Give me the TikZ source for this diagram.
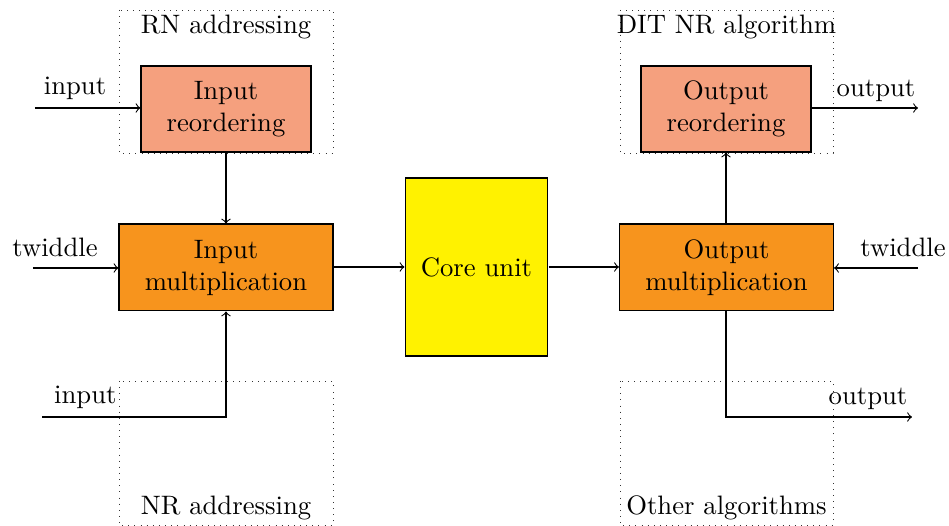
\documentclass[tikz,border=0pt]{standalone}
\usetikzlibrary{positioning}
\definecolor{reorderfill}{HTML}{F5A07E}
\definecolor{multfill}{HTML}{F7941D}
\definecolor{corefill}{HTML}{FFF200}
\begin{document}
\begin{tikzpicture}[x=0.375pt,y=-0.375pt,
  blockbox/.style={draw,thin,align=center,inner sep=0pt},
  reorderbox/.style={blockbox,fill=reorderfill,minimum width=63.75pt,minimum height=32.25pt},
  multbox/.style={blockbox,fill=multfill,minimum width=80.25pt,minimum height=32.6pt},
  corebox/.style={blockbox,fill=corefill,minimum width=53.6pt,minimum height=66.75pt},
  groupframe/.style={draw=black!80,dotted,line width=0.3pt},
  flow/.style={->,thin},
  plainlabel/.style={inner sep=1.5pt}
]
\useasboundingbox (0,0) rectangle (949,526);

% dotted group frames
\draw[groupframe] (119,10) rectangle (333,153);
\draw[groupframe] (620,10) rectangle (833,153);
\draw[groupframe] (119,381) rectangle (333,525);
\draw[groupframe] (620,381) rectangle (833,525);
\node[plainlabel,anchor=north] (rnlab) at (226,10) {RN addressing};
\node[plainlabel,anchor=north] (ditlab) at (726.5,10) {DIT NR algorithm};
\node[plainlabel,anchor=south] (nrlab) at (226,525) {NR addressing};
\node[plainlabel,anchor=south] (otherlab) at (726.5,525) {Other algorithms};

% processing blocks
\node[reorderbox] (inre) at (226,109) {Input\\reordering};
\node[multbox] (inmul) at (226,267.5) {Input\\multiplication};
\node[corebox] (core) at (476.5,267) {Core unit};
\node[multbox] (outmul) at (726.5,267.5) {Output\\multiplication};
\node[reorderbox] (outre) at (726,109) {Output\\reordering};

% free ends of the external signals
\coordinate (inA) at (35,108);
\coordinate (twA) at (33,268);
\coordinate (inB) at (42,417);
\coordinate (inBc) at (226,417);
\coordinate (outA) at (918,108);
\coordinate (twB) at (918,268);
\coordinate (outBc) at (726,417);
\coordinate (outB) at (912,417);

% connectors
\draw[flow] (inA) -- (inre.west |- inA);
\draw[flow] (inre) -- (inmul);
\draw[flow] (twA) -- (inmul.west |- twA);
\draw[flow] (inB) -- (inBc) -- (inmul.south);
\draw[flow] (inmul.east |- core) -- (core.west);
\draw[flow] (core.east) -- (outmul.west |- core);
\draw[flow] (outmul.north -| outre) -- (outre.south);
\draw[flow] (outre.east |- outA) -- (outA);
\draw[flow] (twB) -- (outmul.east |- twB);
\draw[flow] (outmul.south -| outBc) -- (outBc) -- (outB);

% signal labels
\node[plainlabel,anchor=south] (inAlab) at (75,104) {input};
\node[plainlabel,anchor=south] (twAlab) at (55,261) {twiddle};
\node[plainlabel,anchor=south east] (inBlab) at (121,413) {input};
\node[plainlabel,anchor=south] (outAlab) at (876,106) {output};
\node[plainlabel,anchor=south] (twBlab) at (903,261) {twiddle};
\node[plainlabel,anchor=south] (outBlab) at (868,414) {output};
\end{tikzpicture}
\end{document}
